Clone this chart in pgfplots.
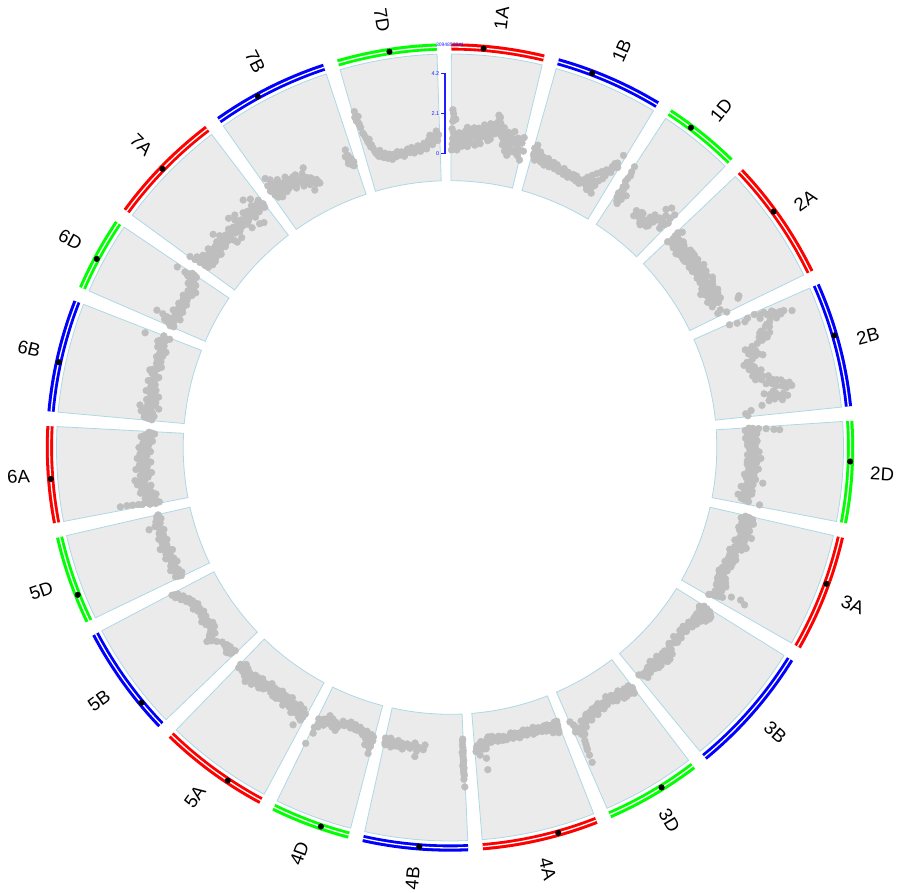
\documentclass[border=0pt]{standalone}
\usepackage{pgfplots}
\pgfplotsset{compat=1.18}
\usepackage{pgfplotstable}
\usepackage{fontspec}
\setmainfont{Liberation Sans}
\definecolor{secfill}{RGB}{235,235,235}
\definecolor{secline}{RGB}{173,216,230}
\definecolor{ptgray}{RGB}{190,190,190}
\definecolor{cR}{RGB}{255,0,0}
\definecolor{cB}{RGB}{0,0,255}
\definecolor{cG}{RGB}{0,255,0}
\definecolor{axblue}{RGB}{30,30,255}
\newcommand\lblfont{\fontsize{18.5}{20}\selectfont}

% sector template: u = fraction along chromosome, r = radius
\pgfplotstableread{
u r
0 393.5
0.05 393.5
0.1 393.5
0.15 393.5
0.2 393.5
0.25 393.5
0.3 393.5
0.35 393.5
0.4 393.5
0.45 393.5
0.5 393.5
0.55 393.5
0.6 393.5
0.65 393.5
0.7 393.5
0.75 393.5
0.8 393.5
0.85 393.5
0.9 393.5
0.95 393.5
1 393.5
1 266.8
0.95 266.8
0.9 266.8
0.85 266.8
0.8 266.8
0.75 266.8
0.7 266.8
0.65 266.8
0.6 266.8
0.55 266.8
0.5 266.8
0.45 266.8
0.4 266.8
0.35 266.8
0.3 266.8
0.25 266.8
0.2 266.8
0.15 266.8
0.1 266.8
0.05 266.8
0 266.8
0 393.5
}\sectpl
% ring template: u = fraction along chromosome, r = radius of ring
\pgfplotstableread{
u r
0 400.6
0.05 400.6
0.1 400.6
0.15 400.6
0.2 400.6
0.25 400.6
0.3 400.6
0.35 400.6
0.4 400.6
0.45 400.6
0.5 400.6
0.55 400.6
0.6 400.6
0.65 400.6
0.7 400.6
0.75 400.6
0.8 400.6
0.85 400.6
0.9 400.6
0.95 400.6
1 400.6
}\ringtpl

% centromere positions (start angle of chromosome, position in Mb)
\pgfplotstableread{
s cen
0.2 205
15.65 229
33.24 167
46.47 331
66.10 340
86.21 258
102.94 310
142.66 242
158.58 255
177.41 311
194.63 186
208.18 246
226.21 186
244.34 181
259.16 282
275.15 318
293.44 207
306.17 353
324.81 289
343.77 335
}\cent

% ---- data: p = position (Mb), v = value ----
\pgfplotstableread{
p v
13 2.3
18 2.1
22 1.9
13 1.7
36 1.8
4 0.2
9 0.5
13 0.8
18 1.1
27 0.3
36 0.6
44 0.9
58 0.5
71 0.7
80 1.0
102 0.6
116 1.2
125 0.9
138 0.4
151 0.8
165 1.3
178 1.0
191 0.6
205 1.1
222 1.4
236 0.9
249 1.2
263 1.6
276 1.0
289 1.3
303 0.8
316 1.5
329 1.2
343 1.7
360 1.6
369 1.9
378 2.1
387 1.8
396 1.5
414 1.1
427 0.7
440 1.3
454 0.4
467 1.0
480 0.2
494 0.8
507 1.5
521 0.5
543 1.2
556 0.7
570 0.3
583 1.0
596 0.1
610 0.6
8 1.3
30 1.0
50 0.2
65 1.1
90 0.4
110 0.9
130 1.4
145 0.5
160 1.0
185 1.4
200 0.5
215 0.8
230 1.2
243 0.6
258 1.0
270 1.4
296 1.1
310 1.7
322 0.9
336 1.4
350 1.2
364 2.2
383 1.4
400 1.2
420 1.6
434 0.9
447 0.7
460 1.4
474 0.6
487 1.2
500 0.4
514 1.1
530 0.9
550 0.4
563 1.0
576 0.6
590 1.3
}\dIA
\pgfplotstableread{
p v
7 0.9
16 0.5
24 1.1
33 0.3
42 0.7
56 0.4
69 0.6
87 0.3
105 0.5
122 0.2
140 0.6
158 0.4
176 0.3
194 0.5
216 0.2
238 0.35
260 0.15
283 0.3
305 0.1
327 0.25
349 0.05
372 0.2
394 0.1
416 0.3
438 0.15
461 0.0
483 0.25
505 0.5
518 0.1
532 0.7
545 0.3
559 0.9
572 0.4
586 1.1
599 0.6
612 1.3
626 1.0
639 1.6
652 1.3
661 1.9
670 2.4
679 1.7
545 -0.1
565 0.0
580 0.2
595 -0.15
12 0.6
20 0.9
30 0.7
50 0.6
62 0.8
78 0.5
95 0.6
113 0.4
130 0.35
150 0.5
167 0.2
185 0.45
205 0.35
227 0.45
250 0.3
272 0.2
294 0.4
316 0.15
338 0.3
360 0.15
383 0.3
405 0.2
427 0.05
450 0.2
472 0.1
494 0.35
525 0.4
538 0.0
552 0.5
590 0.3
605 1.0
620 0.8
633 1.3
645 1.8
657 1.6
}\dIB
\pgfplotstableread{
p v
3 2.2
7 1.9
16 1.7
7 1.3
16 1.0
25 0.8
34 0.5
43 0.3
52 0.1
12 0.6
34 1.1
61 0.4
78 0.7
221 0.4
256 0.2
279 0.5
301 0.1
323 -0.05
327 0.3
345 0.6
363 0.85
359 0.45
381 0.2
399 0.7
399 1.45
425 1.7
443 0.9
466 0.5
470 1.25
479 1.55
488 1.0
10 1.5
20 0.4
30 0.9
38 0.2
230 0.1
265 0.5
290 0.3
312 0.0
335 0.2
352 0.4
370 0.1
390 0.5
410 0.9
432 1.2
455 0.7
475 0.8
}\dID
\pgfplotstableread{
p v
6 0.3
10 1.0
19 0.6
32 1.2
46 0.4
59 0.8
77 0.3
95 0.9
113 0.6
130 0.2
148 0.7
166 0.4
184 0.9
202 0.3
219 0.6
237 0.9
255 0.4
273 0.7
291 0.3
308 0.8
326 0.5
344 1.0
362 0.6
380 0.4
397 0.9
415 0.5
433 0.8
451 0.3
469 1.0
486 0.6
504 0.2
522 0.8
540 0.0
558 0.5
575 0.9
593 0.3
611 0.6
629 0.1
647 0.8
664 0.4
682 0.2
704 1.7
718 1.6
736 0.5
753 0.3
776 0.75
14 0.8
25 0.9
40 0.7
52 0.5
68 0.6
86 0.5
104 0.4
122 0.8
139 0.5
157 0.3
175 0.6
193 0.6
210 0.9
228 0.3
246 0.6
264 0.5
282 0.9
300 0.5
317 0.6
335 0.3
353 0.8
371 0.8
389 0.6
406 0.3
424 0.6
442 0.6
460 0.6
477 0.4
495 0.9
513 0.5
531 0.4
549 0.7
567 0.2
584 0.6
602 0.8
620 0.4
638 0.5
656 0.6
673 0.6
}\dIIA
\pgfplotstableread{
p v
9 0.6
22 1.0
36 1.4
13 2.0
31 2.3
49 2.6
62 2.8
76 3.1
71 3.5
85 3.3
93 3.9
58 2.2
107 2.6
129 2.3
151 2.0
174 2.1
191 1.8
209 2.2
231 1.6
249 0.9
271 1.3
289 1.0
312 1.5
329 1.7
352 0.8
369 0.6
392 1.0
414 0.8
432 1.1
449 1.2
472 0.9
490 1.4
507 1.0
525 1.7
543 2.1
556 1.5
570 2.4
587 2.0
605 2.8
614 2.5
632 1.3
645 1.6
659 2.0
672 2.5
685 1.8
699 2.2
721 1.1
752 0.5
774 0.2
792 0.3
18 1.6
27 2.5
40 2.9
55 3.0
67 3.3
80 2.7
100 3.0
118 2.4
140 2.5
162 1.9
182 2.4
200 1.9
220 1.9
240 1.3
260 1.1
280 1.4
300 1.2
320 1.3
340 1.1
360 0.9
380 0.8
403 1.1
423 0.9
440 1.4
460 1.1
481 1.2
498 1.7
516 1.3
534 1.9
550 2.3
563 1.8
578 2.7
596 2.3
622 1.8
640 1.9
652 2.3
665 1.6
678 2.1
692 1.5
}\dIIB
\pgfplotstableread{
p v
4 0.3
13 0.8
17 1.2
26 1.6
31 1.9
22 0.1
44 0.5
62 0.2
80 0.6
97 0.3
115 0.7
133 0.4
151 0.2
169 0.6
186 0.5
204 0.8
222 0.3
240 0.6
258 0.9
275 0.4
293 0.7
311 0.2
329 0.5
347 0.8
364 0.3
382 0.6
400 0.1
418 0.4
436 0.7
458 1.1
471 0.3
489 0.5
507 0.0
525 0.4
542 0.2
560 0.6
578 -0.1
591 0.3
609 0.1
627 0.5
636 1.1
8 0.5
35 0.3
53 0.7
71 0.4
89 0.1
106 0.5
124 0.2
142 0.6
160 0.4
178 0.3
195 0.6
213 0.5
231 0.2
249 0.5
266 0.7
284 0.2
302 0.6
320 0.4
338 0.3
356 0.6
373 0.5
391 0.3
409 0.6
427 0.2
445 0.5
480 0.6
498 0.2
516 0.3
534 0.6
551 0.4
569 0.3
584 0.1
600 0.4
618 0.3
}\dIID
\pgfplotstableread{
p v
7 0.5
20 0.9
29 0.3
43 0.7
56 1.0
69 0.4
83 0.8
101 0.5
118 0.9
136 0.4
154 0.7
172 1.1
190 0.5
207 0.8
225 0.3
243 0.7
261 1.0
279 0.4
296 0.6
314 0.2
336 0.5
359 0.3
381 0.7
403 0.4
425 0.2
448 0.6
470 0.3
492 0.5
514 0.1
537 0.4
559 0.6
581 0.2
599 0.5
617 0.8
635 0.3
652 0.6
657 1.8
675 2.1
670 1.3
688 0.4
706 0.9
724 0.5
741 0.2
12 0.7
25 0.6
36 0.9
50 0.5
62 0.7
76 0.6
92 0.7
110 0.3
127 0.7
145 0.5
163 0.9
181 0.8
199 0.6
216 0.5
234 0.5
252 0.9
270 0.6
288 0.8
305 0.4
325 0.4
348 0.6
370 0.5
392 0.3
414 0.6
437 0.4
459 0.4
481 0.2
503 0.4
526 0.3
548 0.2
570 0.4
590 0.7
608 0.3
626 0.6
644 0.4
662 0.7
680 0.6
697 0.6
715 0.7
732 0.3
}\dIIIA
\pgfplotstableread{
p v
4 0.3
18 0.7
27 0.1
40 0.5
49 0.9
62 0.3
76 0.6
89 0.2
102 0.8
116 0.4
138 0.2
165 0.5
191 0.1
218 0.3
249 0.0
280 0.2
307 0.1
338 0.3
369 -0.05
405 0.2
441 0.0
467 0.3
490 0.5
507 0.2
525 0.4
543 0.1
561 0.6
579 0.3
596 0.0
614 0.4
632 0.2
650 0.5
668 -0.05
690 0.3
708 0.1
730 0.4
752 0.2
774 0.5
792 0.3
818 0.1
10 0.5
22 0.4
33 0.8
45 0.2
55 0.6
69 0.9
82 0.4
96 0.5
109 0.2
124 0.6
150 0.4
178 0.2
205 0.4
235 0.1
265 0.3
294 0.0
322 0.2
354 0.1
387 0.3
423 0.1
455 0.1
480 0.2
498 0.4
516 0.1
534 0.6
552 0.3
570 0.5
588 0.2
605 0.3
623 0.5
641 0.1
659 0.3
680 0.4
700 0.2
720 0.1
741 0.3
763 0.4
783 0.2
}\dIIIB
\pgfplotstableread{
p v
6 0.4
20 0.7
33 0.3
51 0.5
69 0.2
86 0.6
104 0.3
122 0.1
140 0.4
158 0.2
175 0.5
193 0.1
215 0.3
238 0.0
260 0.4
282 0.2
304 0.5
327 0.1
349 0.3
371 0.6
393 0.2
416 0.4
438 0.7
460 0.3
482 0.6
505 0.9
522 0.5
540 1.2
554 0.8
562 1.5
571 1.9
576 2.3
580 2.7
567 1.1
589 0.6
603 0.9
611 0.3
12 0.5
27 0.2
42 0.6
60 0.4
78 0.3
95 0.5
113 0.6
131 0.2
149 0.3
166 0.4
184 0.3
204 0.4
226 0.2
249 0.2
271 0.3
293 0.4
315 0.3
338 0.4
360 0.2
382 0.4
404 0.5
427 0.3
449 0.5
471 0.4
493 0.7
514 0.7
531 0.9
547 1.0
558 1.2
566 1.7
574 2.0
584 0.9
596 0.5
}\dIIID
\pgfplotstableread{
p v
5 0.0
14 0.3
23 0.6
32 0.2
41 0.4
54 0.1
68 0.5
81 0.2
99 0.0
117 0.3
134 0.1
152 0.25
174 0.0
197 0.2
219 -0.1
241 0.15
263 0.0
286 0.2
308 -0.1
330 0.1
352 0.25
375 0.0
397 0.15
419 -0.1
441 0.1
464 0.2
486 0.0
508 0.15
530 -0.05
553 0.1
575 0.0
597 0.2
619 -0.1
642 0.3
655 1.0
655 1.6
668 0.5
686 0.1
704 0.8
722 0.3
735 0.6
10 0.2
18 0.5
28 0.0
37 0.3
48 0.2
60 0.3
75 0.1
90 0.3
108 0.15
125 0.0
143 0.2
163 0.1
185 0.15
208 0.0
230 0.25
252 0.1
274 -0.05
297 0.1
319 0.15
341 0.0
364 0.1
386 -0.05
408 0.2
430 0.0
452 0.15
475 0.1
497 0.2
519 0.0
541 0.2
564 0.1
586 -0.1
608 0.1
630 0.0
648 0.5
660 0.2
675 0.4
695 0.2
712 0.5
728 0.4
}\dIVA
\pgfplotstableread{
p v
4 -0.1
8 0.2
4 0.5
8 0.8
4 1.0
8 1.2
4 1.4
8 1.6
4 1.8
8 2.0
4 2.4
13 0.6
13 1.3
329 0.25
382 0.4
404 0.9
427 0.3
453 0.5
480 0.3
516 0.6
538 0.4
560 0.2
578 0.5
596 0.3
614 0.6
627 0.15
640 0.4
654 0.25
663 0.55
672 0.2
6 0.35
6 0.65
6 0.95
6 1.1
6 1.5
6 1.7
6 0.0
340 0.5
395 0.6
415 0.2
440 0.4
465 0.35
500 0.45
525 0.3
550 0.5
570 0.35
588 0.4
605 0.45
620 0.3
633 0.5
647 0.35
660 0.3
668 0.45
}\dIVB
\pgfplotstableread{
p v
8 0.3
16 0.6
21 0.9
16 1.2
30 0.2
43 0.5
61 0.8
74 0.1
97 0.35
119 0.1
141 0.0
163 0.2
186 -0.05
208 0.1
230 -0.1
252 0.05
275 0.2
297 0.0
319 0.3
332 0.6
350 0.2
368 0.5
386 0.1
404 0.4
421 0.0
439 0.6
457 0.3
475 0.8
488 1.2
497 0.4
506 1.85
5 0.5
12 0.8
25 0.4
35 0.7
52 0.3
68 0.5
85 0.2
108 0.3
130 0.2
152 0.1
175 0.2
197 0.0
219 0.2
241 0.0
263 0.1
286 0.1
308 0.2
325 0.4
341 0.4
359 0.3
377 0.3
395 0.2
412 0.3
430 0.2
448 0.4
466 0.5
482 0.6
500 0.9
}\dIVD
\pgfplotstableread{
p v
14 0.5
28 0.9
45 0.3
59 1.3
72 0.6
90 0.2
108 0.5
125 0.8
143 0.3
161 0.6
179 0.1
197 0.4
214 0.7
237 0.2
259 0.5
281 0.1
303 0.4
326 0.6
348 0.2
370 0.4
392 0.1
415 0.5
437 0.3
459 0.7
481 0.2
504 0.5
526 0.8
548 0.3
570 0.6
579 0.9
597 0.4
615 0.7
633 0.3
651 0.6
668 0.2
686 0.5
704 0.4
20 0.7
36 0.6
52 0.8
65 0.4
81 0.4
99 0.7
116 0.3
134 0.6
152 0.4
170 0.4
188 0.3
205 0.2
225 0.5
248 0.3
270 0.3
292 0.6
314 0.2
337 0.4
359 0.5
381 0.3
403 0.2
426 0.6
448 0.5
470 0.4
492 0.6
515 0.3
537 0.5
559 0.4
588 0.6
606 0.5
624 0.4
642 0.5
660 0.4
677 0.3
695 0.6
}\dVA
\pgfplotstableread{
p v
17 0.1
31 0.4
44 0.2
57 0.5
71 0.15
89 0.35
146 0.3
213 0.7
231 0.9
244 0.3
258 0.6
275 0.45
293 0.1
311 0.3
329 0.05
347 0.4
364 0.2
387 0.5
409 0.15
431 0.35
453 0.1
471 0.3
494 0.2
516 0.5
534 0.15
556 0.4
578 0.3
600 0.6
618 0.5
636 0.8
654 0.6
672 1.0
689 0.8
703 1.1
24 0.3
37 0.2
50 0.35
64 0.3
80 0.25
100 0.2
120 0.3
180 0.5
222 0.6
238 0.7
250 0.5
266 0.3
284 0.3
302 0.2
320 0.2
338 0.25
356 0.3
375 0.35
398 0.3
420 0.25
442 0.2
462 0.2
482 0.35
505 0.35
525 0.3
545 0.25
567 0.45
589 0.45
609 0.4
627 0.65
645 0.7
663 0.75
681 0.9
696 0.95
}\dVB
\pgfplotstableread{
p v
7 0.2
20 0.5
34 0.1
47 0.4
65 0.2
83 0.6
101 0.3
118 0.5
136 0.1
154 0.4
172 0.2
190 0.6
207 0.3
225 0.5
243 0.1
261 0.4
279 0.7
296 0.3
319 0.5
341 0.2
363 0.6
385 0.3
408 0.5
430 0.2
452 0.4
461 0.95
474 0.6
492 0.3
510 0.5
528 0.2
546 0.4
563 0.3
13 0.35
27 0.3
40 0.25
56 0.35
74 0.4
92 0.45
110 0.35
127 0.3
145 0.25
163 0.3
181 0.4
198 0.45
216 0.4
234 0.3
252 0.25
270 0.55
288 0.5
308 0.4
330 0.35
352 0.4
374 0.45
397 0.4
419 0.35
441 0.3
466 0.5
483 0.45
501 0.4
519 0.35
537 0.3
555 0.35
}\dVD
\pgfplotstableread{
p v
11 0.1
15 0.4
20 0.7
15 1.0
20 1.2
24 1.5
28 1.8
28 2.15
6 0.6
46 0.3
60 0.8
82 0.2
95 0.6
109 1.0
126 0.5
144 0.9
162 0.4
180 1.1
198 0.7
215 1.2
233 0.5
251 0.9
269 0.3
287 0.8
304 1.1
322 0.5
340 0.9
358 0.3
376 0.7
393 1.0
411 0.5
429 0.85
447 0.3
465 0.6
482 0.9
500 0.4
518 0.7
536 0.2
554 0.5
571 0.8
585 0.6
598 0.1
611 0.4
3 0.3
25 0.5
35 0.6
53 0.5
70 0.4
88 0.7
102 0.4
117 0.7
135 0.7
153 0.6
171 0.8
189 0.9
206 0.9
224 0.8
242 0.7
260 0.6
278 0.5
296 0.6
313 0.8
331 0.7
349 0.6
367 0.5
385 0.8
402 0.7
420 0.6
438 0.6
456 0.5
474 0.7
491 0.6
509 0.5
527 0.45
545 0.4
562 0.6
578 0.3
592 0.35
605 0.25
}\dVIA
\pgfplotstableread{
p v
7 0.3
24 0.7
38 0.2
56 0.5
73 0.9
87 0.4
105 0.0
118 1.0
136 0.6
154 0.2
171 0.7
189 0.4
207 0.1
225 0.5
243 0.8
260 0.3
283 0.6
305 0.4
327 0.8
349 0.5
372 0.3
394 0.7
416 0.85
438 0.5
461 0.3
483 0.6
505 0.4
518 0.5
536 0.7
554 0.4
572 0.6
594 0.3
616 0.8
639 0.5
661 0.9
674 0.8
688 1.67
696 0.5
710 0.35
719 0.7
15 0.5
31 0.4
47 0.7
64 0.3
80 0.6
96 0.7
112 0.5
127 0.3
145 0.4
162 0.5
180 0.6
198 0.3
216 0.3
234 0.6
251 0.55
272 0.45
294 0.5
316 0.6
338 0.65
360 0.4
383 0.5
405 0.6
427 0.7
450 0.4
472 0.45
494 0.5
512 0.6
527 0.6
545 0.55
563 0.5
583 0.45
605 0.55
627 0.65
650 0.7
667 0.6
681 0.55
703 0.6
}\dVIB
\pgfplotstableread{
p v
7 0.4
20 0.7
34 1.0
47 0.7
61 0.93
74 1.56
83 0.25
96 0.6
114 0.4
132 0.8
150 0.3
167 0.6
185 0.4
203 0.7
221 0.3
239 0.5
261 0.4
279 0.7
296 0.5
314 0.3
332 0.6
350 0.2
368 0.5
385 0.8
403 0.4
421 0.7
434 1.0
448 1.26
448 1.74
463 0.6
472 0.9
3 0.6
14 0.55
27 0.85
40 0.5
54 0.8
68 1.2
90 0.45
105 0.5
123 0.6
141 0.55
158 0.45
176 0.5
194 0.55
212 0.5
230 0.4
250 0.6
270 0.55
288 0.6
305 0.4
323 0.45
341 0.4
359 0.35
377 0.65
394 0.6
412 0.55
428 0.85
441 1.1
455 1.0
468 0.75
}\dVID
\pgfplotstableread{
p v
6 1.5
15 0.9
24 0.4
37 1.2
50 0.7
64 0.3
77 1.0
90 0.6
108 0.8
126 0.4
144 1.0
162 0.6
179 0.3
197 0.8
215 0.5
233 0.9
251 0.4
259 1.3
268 0.7
286 1.0
304 0.5
322 0.8
340 0.3
348 0.1
357 0.6
375 0.9
393 0.5
402 0.1
411 0.8
429 0.4
437 1.3
446 0.7
464 1.0
482 0.5
491 1.2
500 0.8
518 0.4
526 0.1
535 0.7
553 1.0
571 0.6
589 0.9
598 0.0
607 0.4
620 1.5
624 0.7
633 -0.1
642 1.0
660 0.5
669 1.3
678 0.8
696 0.6
713 1.0
727 0.7
10 1.2
20 0.6
30 0.9
44 0.5
57 1.0
70 0.6
84 0.8
99 0.3
117 0.6
135 0.7
153 0.4
170 0.8
188 0.6
206 0.7
224 0.6
242 0.6
277 0.5
295 0.8
313 0.6
331 0.6
366 0.7
384 0.6
420 0.6
455 0.5
473 0.8
509 0.6
544 0.5
562 0.8
580 0.7
615 0.6
651 0.8
687 0.9
705 0.8
720 0.5
}\dVIIA
\pgfplotstableread{
p v
8 1.0
22 0.7
31 1.7
40 1.3
49 0.9
57 1.5
66 0.4
80 1.1
93 0.7
106 1.3
120 0.5
133 1.0
151 0.6
169 1.2
186 0.8
204 0.4
222 1.0
240 0.6
249 1.03
267 0.3
284 0.6
302 0.9
320 0.2
333 1.15
333 -0.16
351 0.5
369 0.1
387 0.3
400 0.05
685 0.8
698 0.59
703 1.13
716 0.27
725 0.6
738 0.4
15 1.3
26 1.0
35 0.5
45 1.1
53 0.6
62 1.2
72 0.8
86 0.9
100 1.0
113 0.8
127 0.8
142 0.8
160 0.9
178 1.0
195 0.6
213 0.7
231 0.8
258 0.7
276 0.4
293 0.7
311 0.5
326 0.6
342 0.3
360 0.3
378 0.2
394 0.15
690 0.4
710 0.8
730 0.2
}\dVIIB
\pgfplotstableread{
p v
6 2.6
15 2.9
19 2.3
28 2.0
32 2.6
32 1.7
46 1.4
59 1.1
68 1.3
81 0.8
95 0.5
113 0.3
130 0.6
148 0.2
166 0.4
184 0.1
202 0.3
219 0.0
237 0.25
255 0.1
273 0.35
291 0.15
308 0.3
326 0.05
344 0.25
362 0.4
380 0.2
397 0.45
415 0.15
433 0.35
451 0.5
469 0.2
486 0.4
504 0.6
522 0.3
540 0.7
558 1.0
575 0.5
593 0.9
611 1.2
620 0.7
629 1.0
10 2.4
24 2.2
38 1.6
52 1.2
64 0.9
74 1.0
88 0.6
104 0.4
121 0.4
139 0.3
157 0.2
175 0.25
193 0.15
211 0.2
228 0.15
246 0.2
264 0.15
282 0.25
300 0.2
317 0.2
335 0.15
353 0.3
371 0.3
389 0.3
406 0.3
424 0.25
442 0.3
460 0.35
478 0.3
495 0.5
513 0.45
531 0.5
549 0.8
566 0.75
584 0.7
602 1.0
616 0.9
}\dVIID

% #1 start angle, #2 end angle, #3 colour, #4 label, #5 anchor, #6 rotation base
\newcommand\chrom[6]{%
  \addplot[fill=secfill, draw=secline, line width=0.8pt] table[
    x expr={\thisrow{r}*sin(#1+\thisrow{u}*(#2-#1))},
    y expr={\thisrow{r}*cos(#1+\thisrow{u}*(#2-#1))}]{\sectpl};
  \addplot[draw=#3, line width=7.2pt] table[
    x expr={\thisrow{r}*sin(#1+\thisrow{u}*(#2-#1))},
    y expr={\thisrow{r}*cos(#1+\thisrow{u}*(#2-#1))}]{\ringtpl};
  \addplot[draw=white, line width=1.3pt] table[
    x expr={(\thisrow{r}-0.1)*sin(#1+\thisrow{u}*(#2-#1))},
    y expr={(\thisrow{r}-0.1)*cos(#1+\thisrow{u}*(#2-#1))}]{\ringtpl};
  \node[font=\lblfont, anchor=#5, inner sep=0pt, rotate={#6-(#1+#2)/2}]
    at (axis cs:{421*sin((#1+#2)/2)},{421*cos((#1+#2)/2)}) {#4};
}
\newcommand\chrpts[2]{%
  \addplot[only marks, mark=*, mark size=3.4pt, mark options={draw=ptgray, fill=ptgray}] table[
    x expr={(293.8+19.14*\thisrow{v})*sin(#1+0.022478*\thisrow{p})},
    y expr={(293.8+19.14*\thisrow{v})*cos(#1+0.022478*\thisrow{p})}]{#2};
}

\begin{document}
\begin{tikzpicture}
\useasboundingbox (0,0) rectangle (898pt,893pt);
\begin{axis}[
  x=1pt, y=1pt,
  xmin=-450, xmax=448, ymin=-445.5, ymax=447.5,
  hide axis, clip=false,
]
\chrom{0.2}{13.55}{cR}{1A}{west}{90}
\chrom{15.65}{31.14}{cB}{1B}{west}{90}
\chrom{33.24}{44.37}{cG}{1D}{west}{90}
\chrom{46.47}{64.00}{cR}{2A}{west}{90}
\chrom{66.10}{84.11}{cB}{2B}{west}{90}
\chrom{86.21}{100.84}{cG}{2D}{west}{90}
\chrom{102.94}{119.80}{cR}{3A}{west}{90}
\chrom{121.90}{140.56}{cB}{3B}{west}{90}
\chrom{142.66}{156.48}{cG}{3D}{west}{90}
\chrom{158.58}{175.31}{cR}{4A}{west}{90}
\chrom{177.41}{192.53}{cB}{4B}{east}{270}
\chrom{194.63}{206.08}{cG}{4D}{east}{270}
\chrom{208.18}{224.11}{cR}{5A}{east}{270}
\chrom{226.21}{242.24}{cB}{5B}{east}{270}
\chrom{244.34}{257.06}{cG}{5D}{east}{270}
\chrom{259.16}{273.05}{cR}{6A}{east}{270}
\chrom{275.15}{291.34}{cB}{6B}{east}{270}
\chrom{293.44}{304.07}{cG}{6D}{east}{270}
\chrom{306.17}{322.71}{cR}{7A}{east}{270}
\chrom{324.81}{341.67}{cB}{7B}{east}{270}
\chrom{343.77}{358.11}{cG}{7D}{east}{270}

\chrpts{0.2}{\dIA}
\chrpts{15.65}{\dIB}
\chrpts{33.24}{\dID}
\chrpts{46.47}{\dIIA}
\chrpts{66.10}{\dIIB}
\chrpts{86.21}{\dIID}
\chrpts{102.94}{\dIIIA}
\chrpts{121.90}{\dIIIB}
\chrpts{142.66}{\dIIID}
\chrpts{158.58}{\dIVA}
\chrpts{177.41}{\dIVB}
\chrpts{194.63}{\dIVD}
\chrpts{208.18}{\dVA}
\chrpts{226.21}{\dVB}
\chrpts{244.34}{\dVD}
\chrpts{259.16}{\dVIA}
\chrpts{275.15}{\dVIB}
\chrpts{293.44}{\dVID}
\chrpts{306.17}{\dVIIA}
\chrpts{324.81}{\dVIIB}
\chrpts{343.77}{\dVIID}

% centromeres
\addplot[only marks, mark=*, mark size=2.8pt, mark options={draw=black, fill=black}] table[
  x expr={400.4*sin(\thisrow{s}+0.022478*\thisrow{cen})},
  y expr={400.4*cos(\thisrow{s}+0.022478*\thisrow{cen})}]{\cent};

% value axis of the track
\addplot[draw=axblue, line width=1.2pt] coordinates {(-9,374.2) (-5,374.2) (-5,293.8) (-9,293.8)};
\addplot[draw=axblue, line width=1.2pt] coordinates {(-9,334) (-5,334)};
\node[anchor=east, inner sep=0pt, font=\fontsize{5.5}{6}\selectfont, text=axblue] at (axis cs:-10.5,374.2) {4.2};
\node[anchor=east, inner sep=0pt, font=\fontsize{5.5}{6}\selectfont, text=axblue] at (axis cs:-10.5,334) {2.1};
\node[anchor=east, inner sep=0pt, font=\fontsize{5.5}{6}\selectfont, text=axblue] at (axis cs:-10.5,293.8) {0};
\node[inner sep=0pt, font=\fontsize{5}{5}\selectfont, text=axblue] at (axis cs:0,402.3) {3094853941};
\end{axis}
\end{tikzpicture}
\end{document}
